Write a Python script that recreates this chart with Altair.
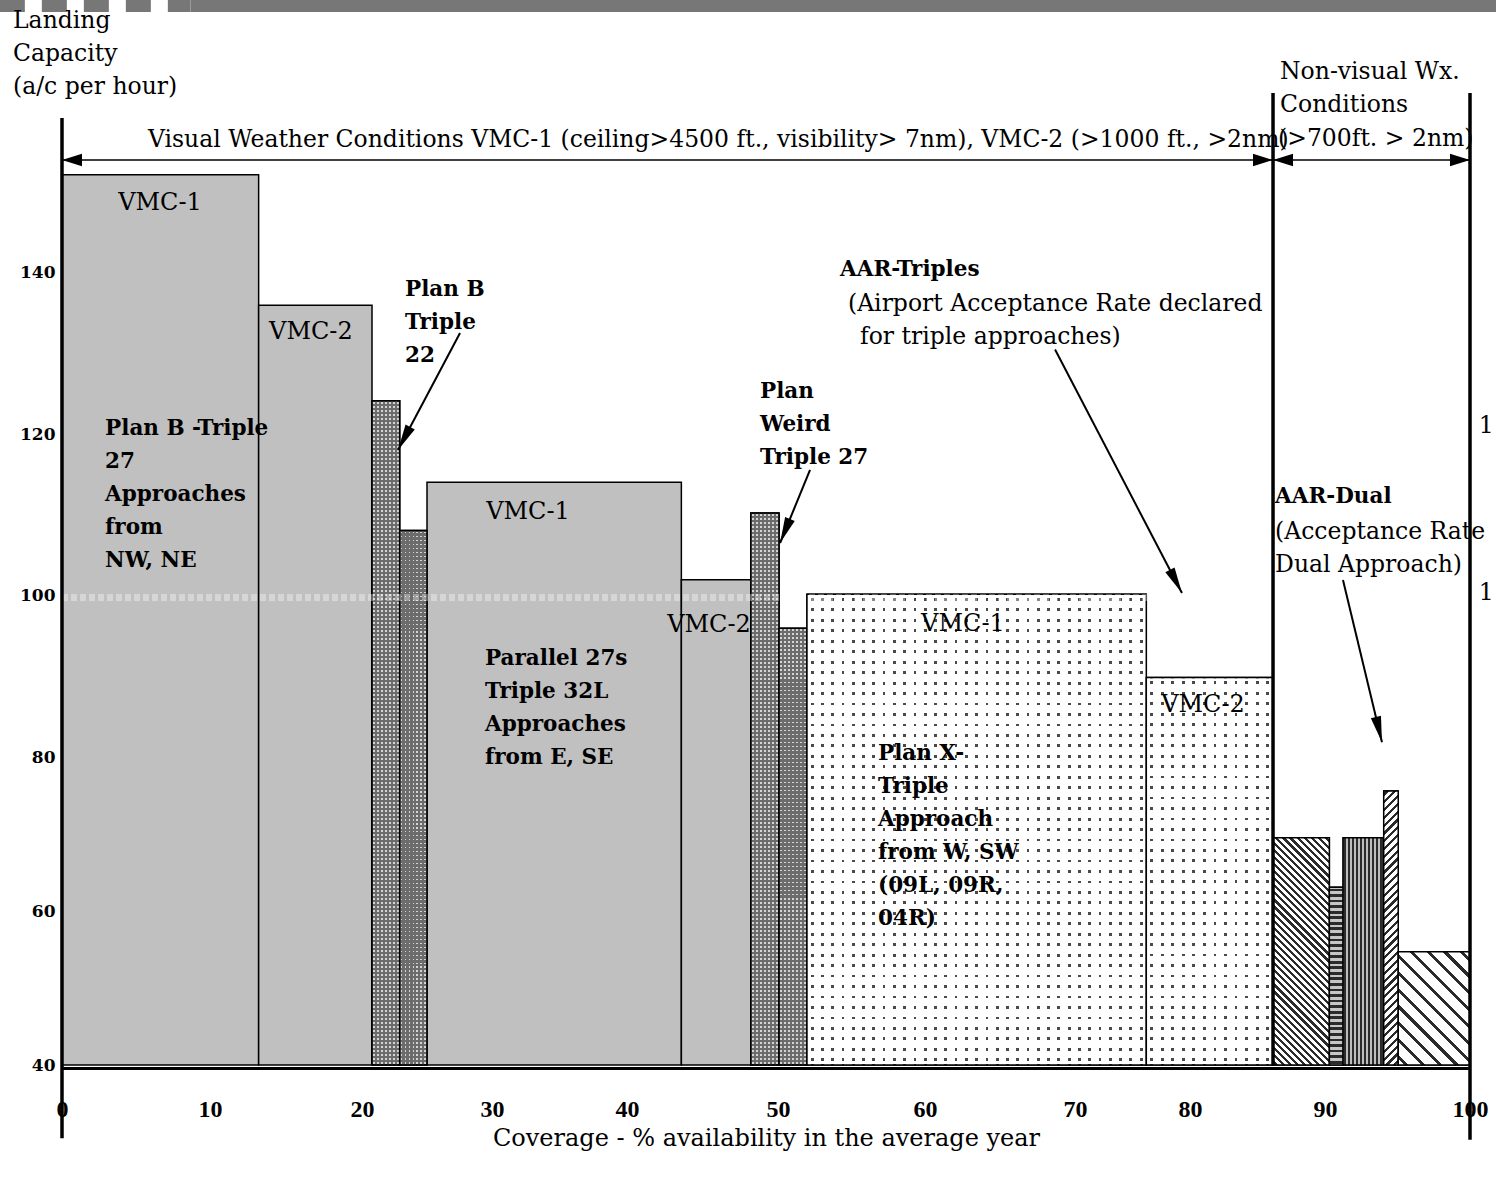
import math
import numpy as np
import pandas as pd
import altair as alt

# ---------------- data ----------------
x_ticks = [0, 10, 20, 30, 40, 50, 60, 70, 80, 90, 100]
y_ticks = [40, 60, 80, 100, 120, 140]

bar_start = [0, 13.2, 20.77, 22.9, 25.0, 43.6, 48.2, 50.07, 51.97, 76.2, 86.15, 90.3, 91.25, 94.05, 95.05]
bar_end = [13.2, 20.77, 22.9, 25.0, 43.6, 48.2, 50.07, 51.97, 76.2, 86.15, 90.3, 91.25, 94.0, 95.05, 100]
bar_capacity = [152.0, 135.9, 124.1, 108.0, 114.0, 101.9, 110.2, 95.9, 100.1, 89.8, 69.5, 63.1, 69.5, 75.6, 54.7]
bar_texture = ["solid", "solid", "stipple", "stipple", "solid", "solid", "stipple", "stipple",
               "dots", "dots", "hatch_dense", "rows", "columns", "hatch_up", "hatch_wide"]
base_capacity = 40

vmc_text = ["VMC-1", "VMC-2", "VMC-1", "VMC-2", "VMC-1", "VMC-2"]
vmc_x = [6.62, 16.64, 32.67, 45.43, 62.53, 80.96]
vmc_y = [147.65, 131.68, 109.44, 95.43, 95.56, 85.56]

note_text = [
    "Landing\nCapacity\n(a/c per hour)",
    "Visual Weather Conditions VMC-1 (ceiling>4500 ft., visibility> 7nm), VMC-2 (>1000 ft., >2nm)",
    "Non-visual Wx.\nConditions",
    "(>700ft. > 2nm)",
    "(Airport Acceptance Rate declared",
    "for triple approaches)",
    "(Acceptance Rate\nDual Approach)",
    "1",
    "1",
]
note_x = [-3.31, 5.81, 86.67, 86.52, 54.76, 55.58, 86.30, 100.6, 100.6]
note_y = [170.1, 155.43, 163.83, 155.56, 135.19, 131.06, 106.96, 120.12, 99.38]

bold_text = [
    "Plan B -Triple\n27\nApproaches\nfrom\nNW, NE",
    "Plan B\nTriple\n22",
    "Plan\nWeird\nTriple 27",
    "Parallel 27s\nTriple 32L\nApproaches\nfrom E, SE",
    "AAR-Triples",
    "Plan X-\nTriple\nApproach\nfrom W, SW\n(09L, 09R,\n04R)",
    "AAR-Dual",
]
bold_x = [2.91, 23.31, 48.81, 29.46, 54.22, 56.80, 86.30]
bold_y = [119.88, 137.04, 124.47, 91.36, 139.51, 79.61, 111.43]

arrow_x0 = [27.54, 52.18, 68.67, 91.24]
arrow_y0 = [132.47, 115.53, 130.43, 101.86]
arrow_x1 = [22.77, 50.14, 79.30, 93.93]
arrow_y1 = [118.01, 106.46, 100.25, 81.82]

span_start = [0, 86.15]
span_end = [86.15, 100]
span_level = 153.83

divider_x = [0, 86.15, 100]
divider_top = [159.0, 162.1, 162.1]
divider_bottom = [30.5, 40, 30.3]

band_level = 99.7
header_level = 172.84
header_breaks = [-4.2, 8.68, 101.8]

# ---------------- style ----------------
SERIF = "DejaVu Serif"
X_RANGE = [0, 148, 300, 430, 565, 716, 863, 1013, 1128, 1263, 1408]
Y_RANGE = [1065, 911, 757, 595, 434, 272]
PLOT_W, PLOT_H = 1408, 1068
STIPPLE_BASE = "#6c6c6c"
TEXTURE_FILL = {"solid": "#c0c0c0", "stipple": STIPPLE_BASE, "dots": "#ffffff",
                "hatch_dense": "#ffffff", "hatch_up": "#ffffff", "hatch_wide": "#ffffff",
                "rows": "#c6c6c6", "columns": "#bdbdbd"}
CLEAR = "rgba(255,255,255,0)"
INK = "#2b2b2b"


def px(v):
    return float(np.interp(v, x_ticks, X_RANGE))


def py(v):
    return float(np.interp(v, y_ticks, Y_RANGE))


def stripe_stops(n, duty, on, off):
    n = max(1, int(n))
    stops = [{"offset": 0, "color": off}]
    for i in range(n):
        a = round((i + 0.5 - duty / 2) / n, 6)
        b = round((i + 0.5 + duty / 2) / n, 6)
        stops += [{"offset": a, "color": off}, {"offset": a, "color": on},
                  {"offset": b, "color": on}, {"offset": b, "color": off}]
    stops.append({"offset": 1, "color": off})
    return stops


def straight_grad(vertical, stops):
    if vertical:
        return {"gradient": "linear", "x1": 0, "y1": 0, "x2": 0, "y2": 1, "stops": stops}
    return {"gradient": "linear", "x1": 0, "y1": 0, "x2": 1, "y2": 0, "stops": stops}


def diag_grad(w, h, spacing, duty, on, off, back=True):
    n = max(1, round((w + h) / (spacing * math.sqrt(2))))
    k = (w + h) / (w * w + h * h)
    stops = stripe_stops(n, duty, on, off)
    if back:
        return {"gradient": "linear", "x1": 0, "y1": 1, "x2": round(k * w, 6), "y2": round(1 - k * h, 6), "stops": stops}
    return {"gradient": "linear", "x1": 0, "y1": 0, "x2": round(k * w, 6), "y2": round(k * h, 6), "stops": stops}


xs = alt.Scale(domain=x_ticks, range=X_RANGE, nice=False, zero=False)
ys = alt.Scale(domain=y_ticks, range=Y_RANGE, nice=False, zero=False)
x_axis = alt.Axis(values=x_ticks, title="Coverage - % availability in the average year", grid=False,
                  ticks=False, domain=True, domainColor="black", domainWidth=3, labelPadding=29,
                  labelFont="Liberation Serif", labelFontWeight="bold", labelFontSize=24, labelColor="black",
                  labelOverlap=False, labelFlush=False, titleFont=SERIF, titleFontSize=24,
                  titleFontWeight="normal", titleColor="black", titleY=70, titleBaseline="middle")
y_axis = alt.Axis(values=y_ticks, title="", grid=False, ticks=False, domain=False, labelPadding=7,
                  labelFont=SERIF, labelFontWeight="bold", labelFontSize=17, labelColor="black",
                  labelOverlap=False, labelFlush=False)


def X(f):
    return alt.X(f"{f}:Q", scale=xs, axis=x_axis)


def Y(f):
    return alt.Y(f"{f}:Q", scale=ys, axis=y_axis)


n_bars = len(bar_start)
bars = pd.DataFrame({"x0": bar_start, "x1": bar_end, "lo": [base_capacity] * n_bars,
                     "cap": bar_capacity, "texture": bar_texture, "idx": list(range(n_bars))})
bars["fill"] = bars["texture"].map(TEXTURE_FILL)

bar_enc = dict(x=X("x0"), x2=alt.X2("x1:Q"), y=Y("lo"), y2=alt.Y2("cap:Q"))

layers = [
    alt.Chart(bars).mark_rect(stroke="black", strokeWidth=1.5).encode(
        fill=alt.Fill("fill:N", scale=None), **bar_enc)
]


def one_bar(i, fill, stroke=True):
    props = {"fill": fill}
    if stroke:
        props.update(stroke="black", strokeWidth=1.5)
    else:
        props.update(strokeWidth=0)
    return alt.Chart(bars).transform_filter(alt.datum.idx == i).mark_rect(**props).encode(**bar_enc)


def outline(i):
    return alt.Chart(bars).transform_filter(alt.datum.idx == i).mark_rect(
        fill="white", fillOpacity=0, stroke="black", strokeWidth=1.5).encode(**bar_enc)


for i, t in enumerate(bar_texture):
    w = px(bar_end[i]) - px(bar_start[i])
    h = py(base_capacity) - py(bar_capacity[i])
    if t == "dots":
        nr = max(1, round(h / 10.4))
        nc = max(1, round(w / 10.2))
        layers.append(one_bar(i, straight_grad(True, stripe_stops(nr, 2.8 / (h / nr), "#4a4a4a", CLEAR)), False))
        layers.append(one_bar(i, straight_grad(False, stripe_stops(nc, 2.8 / (w / nc), CLEAR, "#ffffff")), False))
        layers.append(outline(i))
    elif t == "stipple":
        nr = max(1, round(h / 4.0))
        nc = max(1, round(w / 4.0))
        layers.append(one_bar(i, straight_grad(True, stripe_stops(nr, 0.4, "#d4d4d4", CLEAR)), False))
        layers.append(one_bar(i, straight_grad(False, stripe_stops(nc, 0.4, CLEAR, STIPPLE_BASE)), False))
        layers.append(outline(i))
    elif t == "hatch_dense":
        layers.append(one_bar(i, diag_grad(w, h, 5.0, 0.45, INK, "#ffffff", True)))
    elif t == "hatch_up":
        layers.append(one_bar(i, diag_grad(w, h, 5.5, 0.42, INK, "#ffffff", False)))
    elif t == "hatch_wide":
        layers.append(one_bar(i, diag_grad(w, h, 12.0, 0.25, INK, "#ffffff", True)))
    elif t == "rows":
        n = max(1, round(h / 5.5))
        layers.append(one_bar(i, straight_grad(True, stripe_stops(n, 0.5, INK, "#c6c6c6"))))
    elif t == "columns":
        n = max(1, round(w / 4.0))
        layers.append(one_bar(i, straight_grad(False, stripe_stops(n, 0.5, INK, "#bdbdbd"))))

# light scan band at 100
band = pd.DataFrame({"a": [x_ticks[0]], "b": [x_ticks[-1]], "v": [band_level]})
layers.append(alt.Chart(band).mark_rule(color="white", strokeWidth=7, opacity=0.35, strokeDash=[6, 3]).encode(
    x=X("a"), x2=alt.X2("b:Q"), y=Y("v")))

# header strip
hdr = pd.DataFrame({"a": header_breaks[:2], "b": header_breaks[1:], "v": [header_level] * 2, "part": ["dash", "solid"]})
layers.append(alt.Chart(hdr).transform_filter(alt.datum.part == "dash").mark_rule(
    color="#777777", strokeWidth=12, strokeDash=[25, 17]).encode(x=X("a"), x2=alt.X2("b:Q"), y=Y("v")))
layers.append(alt.Chart(hdr).transform_filter(alt.datum.part == "solid").mark_rule(
    color="#777777", strokeWidth=12).encode(x=X("a"), x2=alt.X2("b:Q"), y=Y("v")))

# dividers
div = pd.DataFrame({"x": divider_x, "top": divider_top, "bot": divider_bottom})
layers.append(alt.Chart(div).mark_rule(color="black", strokeWidth=3.5).encode(
    x=X("x"), y=Y("bot"), y2=alt.Y2("top:Q")))

# span arrows
spans = pd.DataFrame({"a": span_start, "b": span_end, "v": [span_level] * 2})
layers.append(alt.Chart(spans).mark_rule(color="black", strokeWidth=1.5).encode(
    x=X("a"), x2=alt.X2("b:Q"), y=Y("v")))
span_heads = pd.DataFrame({"x": [span_start[0], span_end[0], span_start[1], span_end[1]],
                           "v": [span_level] * 4, "ang": [270, 90, 270, 90]})
layers.append(alt.Chart(span_heads).mark_point(shape="M0,0L0.63,2L-0.63,2Z", filled=True, color="black",
                                               size=400, opacity=1).encode(
    x=X("x"), y=Y("v"), angle=alt.Angle("ang:Q", scale=None)))

# callout arrows
arrows = pd.DataFrame({"x0": arrow_x0, "y0": arrow_y0, "x1": arrow_x1, "y1": arrow_y1})
arrows["ang"] = [math.degrees(math.atan2(px(b) - px(a), -(py(d) - py(c)))) % 360
                 for a, b, c, d in zip(arrow_x0, arrow_x1, arrow_y0, arrow_y1)]
layers.append(alt.Chart(arrows).mark_rule(color="black", strokeWidth=2).encode(
    x=X("x0"), y=Y("y0"), x2=alt.X2("x1:Q"), y2=alt.Y2("y1:Q")))
layers.append(alt.Chart(arrows).mark_point(shape="M0,0L0.4,2L-0.4,2Z", filled=True, color="black",
                                           size=676, opacity=1).encode(
    x=X("x1"), y=Y("y1"), angle=alt.Angle("ang:Q", scale=None)))

# texts
vmc = pd.DataFrame({"t": vmc_text, "x": vmc_x, "y": vmc_y})
layers.append(alt.Chart(vmc).mark_text(align="center", baseline="alphabetic", font=SERIF, fontSize=24,
                                       color="black").encode(x=X("x"), y=Y("y"), text="t:N"))
notes = pd.DataFrame({"t": note_text, "x": note_x, "y": note_y})
layers.append(alt.Chart(notes).mark_text(align="left", baseline="alphabetic", font=SERIF, fontSize=23.5,
                                         lineBreak="\n", lineHeight=33, color="black").encode(
    x=X("x"), y=Y("y"), text="t:N"))
bold = pd.DataFrame({"t": bold_text, "x": bold_x, "y": bold_y})
layers.append(alt.Chart(bold).mark_text(align="left", baseline="alphabetic", font=SERIF, fontSize=21.5,
                                        fontWeight="bold", lineBreak="\n", lineHeight=33, color="black").encode(
    x=X("x"), y=Y("y"), text="t:N"))

chart = alt.layer(*layers).properties(
    width=PLOT_W, height=PLOT_H,
    padding={"left": 62, "top": 0, "right": 26, "bottom": 112},
    autosize=alt.AutoSizeParams(type="none"),
    background="white",
).configure_view(strokeWidth=0)

chart.save("out.html", embed_options={"renderer": "svg", "actions": False})
